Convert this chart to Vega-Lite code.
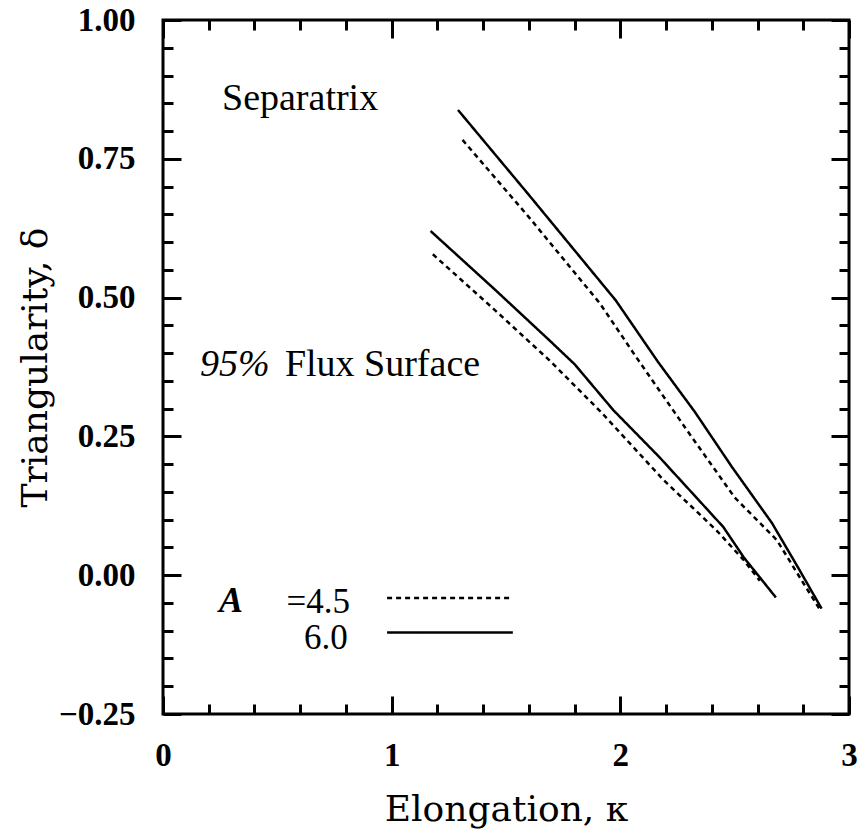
{
  "$schema": "https://vega.github.io/schema/vega-lite/v6.json",
  "width": 686,
  "height": 694,
  "autosize": "none",
  "padding": {"left": 163, "top": 20, "right": 13, "bottom": 126},
  "background": "white",
  "config": {
    "view": {"stroke": "black", "strokeWidth": 3},
    "axis": {"grid": false, "domain": false, "tickColor": "black", "tickWidth": 3, "labelFlush": false}
  },
  "resolve": {"axis": {"x": "independent", "y": "independent"}},
  "datasets": {
    "curves": [
      {"k": 1.29, "d": 0.838, "A": "6.0", "surf": "Separatrix"},
      {"k": 1.60, "d": 0.685, "A": "6.0", "surf": "Separatrix"},
      {"k": 1.80, "d": 0.585, "A": "6.0", "surf": "Separatrix"},
      {"k": 1.98, "d": 0.495, "A": "6.0", "surf": "Separatrix"},
      {"k": 2.165, "d": 0.384, "A": "6.0", "surf": "Separatrix"},
      {"k": 2.326, "d": 0.294, "A": "6.0", "surf": "Separatrix"},
      {"k": 2.488, "d": 0.195, "A": "6.0", "surf": "Separatrix"},
      {"k": 2.663, "d": 0.094, "A": "6.0", "surf": "Separatrix"},
      {"k": 2.777, "d": 0.014, "A": "6.0", "surf": "Separatrix"},
      {"k": 2.88, "d": -0.06, "A": "6.0", "surf": "Separatrix"},
      {"k": 1.31, "d": 0.784, "A": "4.5", "surf": "Separatrix"},
      {"k": 1.60, "d": 0.645, "A": "4.5", "surf": "Separatrix"},
      {"k": 1.91, "d": 0.49, "A": "4.5", "surf": "Separatrix"},
      {"k": 2.064, "d": 0.396, "A": "4.5", "surf": "Separatrix"},
      {"k": 2.30, "d": 0.256, "A": "4.5", "surf": "Separatrix"},
      {"k": 2.50, "d": 0.14, "A": "4.5", "surf": "Separatrix"},
      {"k": 2.685, "d": 0.063, "A": "4.5", "surf": "Separatrix"},
      {"k": 2.80, "d": -0.014, "A": "4.5", "surf": "Separatrix"},
      {"k": 2.87, "d": -0.06, "A": "4.5", "surf": "Separatrix"},
      {"k": 1.17, "d": 0.62, "A": "6.0", "surf": "95%"},
      {"k": 1.45, "d": 0.515, "A": "6.0", "surf": "95%"},
      {"k": 1.69, "d": 0.423, "A": "6.0", "surf": "95%"},
      {"k": 1.80, "d": 0.38, "A": "6.0", "surf": "95%"},
      {"k": 1.97, "d": 0.297, "A": "6.0", "surf": "95%"},
      {"k": 2.17, "d": 0.213, "A": "6.0", "surf": "95%"},
      {"k": 2.45, "d": 0.087, "A": "6.0", "surf": "95%"},
      {"k": 2.54, "d": 0.032, "A": "6.0", "surf": "95%"},
      {"k": 2.68, "d": -0.04, "A": "6.0", "surf": "95%"},
      {"k": 1.18, "d": 0.578, "A": "4.5", "surf": "95%"},
      {"k": 1.45, "d": 0.478, "A": "4.5", "surf": "95%"},
      {"k": 1.69, "d": 0.387, "A": "4.5", "surf": "95%"},
      {"k": 1.92, "d": 0.292, "A": "4.5", "surf": "95%"},
      {"k": 2.19, "d": 0.171, "A": "4.5", "surf": "95%"},
      {"k": 2.42, "d": 0.081, "A": "4.5", "surf": "95%"},
      {"k": 2.54, "d": 0.027, "A": "4.5", "surf": "95%"},
      {"k": 2.61, "d": -0.01, "A": "4.5", "surf": "95%"}
    ],
    "legendLines": [
      {"k": 0.98, "d": -0.041, "A": "4.5"},
      {"k": 1.517, "d": -0.041, "A": "4.5"},
      {"k": 0.98, "d": -0.103, "A": "6.0"},
      {"k": 1.53, "d": -0.103, "A": "6.0"}
    ]
  },
  "layer": [
    {
      "data": {"name": "curves"},
      "mark": {"type": "line", "color": "black", "strokeWidth": 2.5},
      "encoding": {
        "x": {
          "field": "k", "type": "quantitative",
          "scale": {"domain": [0, 3], "nice": false, "zero": false},
          "axis": {
            "orient": "bottom",
            "title": "Elongation, κ", "titleFont": "DejaVu Serif", "titleFontSize": 36, "titleFontWeight": "normal", "titleColor": "black", "titlePadding": 20,
            "values": [0, 1, 2, 3], "format": "d",
            "labelFont": "Liberation Serif", "labelFontWeight": "bold", "labelFontSize": 33, "labelColor": "black", "labelPadding": 25,
            "ticks": false
          }
        },
        "y": {
          "field": "d", "type": "quantitative",
          "scale": {"domain": [-0.25, 1.0], "nice": false, "zero": false},
          "axis": {
            "orient": "left",
            "title": "Triangularity, δ", "titleFont": "DejaVu Serif", "titleFontSize": 36, "titleFontWeight": "normal", "titleColor": "black", "titlePadding": 4,
            "values": [-0.25, 0, 0.25, 0.5, 0.75, 1.0], "format": ".2f",
            "labelFont": "Liberation Serif", "labelFontWeight": "bold", "labelFontSize": 33, "labelColor": "black", "labelPadding": 28,
            "ticks": false
          }
        },
        "detail": {"field": "surf"},
        "strokeDash": {
          "field": "A", "type": "nominal",
          "scale": {"domain": ["4.5", "6.0"], "range": [[5, 4], [1, 0]]},
          "legend": null
        }
      }
    },
    {
      "data": {"name": "legendLines"},
      "mark": {"type": "line", "color": "black", "strokeWidth": 2.5},
      "encoding": {
        "x": {"field": "k", "type": "quantitative",
          "axis": {"orient": "bottom", "title": null, "labels": false, "values": [0, 1, 2, 3], "tickSize": -18}},
        "y": {"field": "d", "type": "quantitative",
          "axis": {"orient": "left", "title": null, "labels": false, "values": [-0.25, 0, 0.25, 0.5, 0.75, 1.0], "tickSize": -18}},
        "strokeDash": {"field": "A", "type": "nominal", "legend": null}
      }
    },
    {
      "data": {"values": [{"k": 0.258, "d": 0.838, "t": "Separatrix"}]},
      "mark": {"type": "text", "align": "left", "baseline": "alphabetic", "font": "Liberation Serif", "fontSize": 38, "color": "black"},
      "encoding": {
        "x": {"field": "k", "type": "quantitative",
          "axis": {"orient": "top", "title": null, "labels": false, "values": [0, 1, 2, 3], "tickSize": -18}},
        "y": {"field": "d", "type": "quantitative",
          "axis": {"orient": "right", "title": null, "labels": false, "values": [-0.25, 0, 0.25, 0.5, 0.75, 1.0], "tickSize": -18}},
        "text": {"field": "t"}
      }
    },
    {
      "data": {"values": [{"k": 0.162, "d": 0.359, "t": "95%"}]},
      "mark": {"type": "text", "align": "left", "baseline": "alphabetic", "font": "Liberation Serif", "fontStyle": "italic", "fontSize": 38, "color": "black"},
      "encoding": {
        "x": {"field": "k", "type": "quantitative",
          "axis": {"orient": "bottom", "title": null, "labels": false, "values": [0.2, 0.4, 0.6, 0.8, 1.2, 1.4, 1.6, 1.8, 2.2, 2.4, 2.6, 2.8], "tickSize": -10}},
        "y": {"field": "d", "type": "quantitative",
          "axis": {"orient": "left", "title": null, "labels": false, "values": [-0.2, -0.15, -0.1, -0.05, 0.05, 0.1, 0.15, 0.2, 0.3, 0.35, 0.4, 0.45, 0.55, 0.6, 0.65, 0.7, 0.8, 0.85, 0.9, 0.95], "tickSize": -10}},
        "text": {"field": "t"}
      }
    },
    {
      "data": {"values": [{"k": 0.533, "d": 0.359, "t": "Flux  Surface"}]},
      "mark": {"type": "text", "align": "left", "baseline": "alphabetic", "font": "Liberation Serif", "fontSize": 38, "color": "black"},
      "encoding": {
        "x": {"field": "k", "type": "quantitative",
          "axis": {"orient": "top", "title": null, "labels": false, "values": [0.2, 0.4, 0.6, 0.8, 1.2, 1.4, 1.6, 1.8, 2.2, 2.4, 2.6, 2.8], "tickSize": -10}},
        "y": {"field": "d", "type": "quantitative",
          "axis": {"orient": "right", "title": null, "labels": false, "values": [-0.2, -0.15, -0.1, -0.05, 0.05, 0.1, 0.15, 0.2, 0.3, 0.35, 0.4, 0.45, 0.55, 0.6, 0.65, 0.7, 0.8, 0.85, 0.9, 0.95], "tickSize": -10}},
        "text": {"field": "t"}
      }
    },
    {
      "data": {"values": [{"k": 0.297, "d": -0.067, "t": "A"}]},
      "mark": {"type": "text", "align": "center", "baseline": "alphabetic", "font": "Liberation Serif", "fontStyle": "italic", "fontWeight": "bold", "fontSize": 36, "color": "black"},
      "encoding": {
        "x": {"field": "k", "type": "quantitative", "axis": null},
        "y": {"field": "d", "type": "quantitative", "axis": null},
        "text": {"field": "t"}
      }
    },
    {
      "data": {"values": [{"k": 0.818, "d": -0.068, "t": "=4.5"}, {"k": 0.808, "d": -0.133, "t": "6.0"}]},
      "mark": {"type": "text", "align": "right", "baseline": "alphabetic", "font": "Liberation Serif", "fontSize": 35, "color": "black"},
      "encoding": {
        "x": {"field": "k", "type": "quantitative", "axis": null},
        "y": {"field": "d", "type": "quantitative", "axis": null},
        "text": {"field": "t"}
      }
    }
  ]
}
